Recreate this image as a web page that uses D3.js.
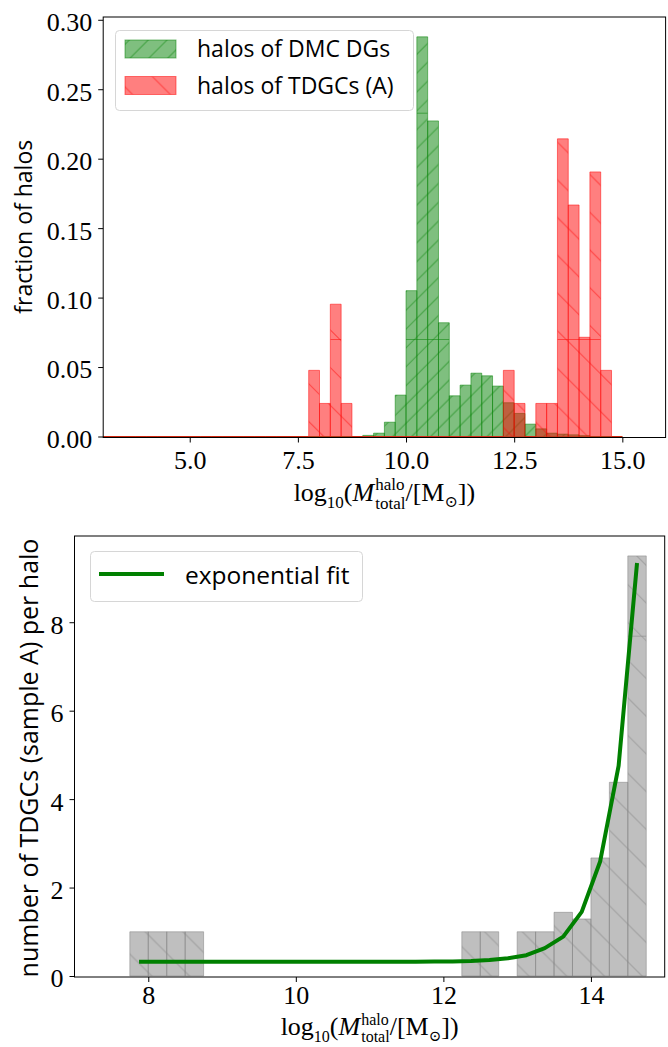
<!DOCTYPE html>
<html>
<head>
<meta charset="utf-8">
<script src="https://cdn.jsdelivr.net/npm/d3@7"></script>
<style>
  body { margin: 0; background: #fff; }
  svg { display: block; }
</style>
</head>
<body>
<svg id="fig" width="668" height="1047"></svg>
<script>
// ---------------- data ----------------
// Mass bins (log10 M_halo), 0.25 dex wide, lower edges 3.00 ... 14.75
const binWidth = 0.25;
const binStarts = d3.range(48).map(i => 3 + i * binWidth);

// Fraction of halos hosting DMC dwarf galaxies, per bin
const dmcHaloFraction = [
  0, 0, 0, 0, 0, 0, 0, 0,                 //  3.00 -  4.75
  0, 0, 0, 0, 0, 0, 0, 0,                 //  5.00 -  6.75
  0, 0, 0, 0, 0, 0, 0, 0,                 //  7.00 -  8.75
  0.0008, 0.0024, 0.0103, 0.0298, 0.105, 0.2877, 0.2272, 0.0819,   //  9.00 - 10.75
  0.0293, 0.037, 0.0456, 0.0437, 0.0363, 0.0243, 0.0166, 0.0089,   // 11.00 - 12.75
  0.0055, 0.0024, 0.0017, 0.0012, 0.0006, 0, 0, 0                  // 13.00 - 14.75
];

// Number of halos hosting TDGCs of sample A, per bin
const tdgcHaloCount = [
  0, 0, 0, 0, 0, 0, 0, 0,
  0, 0, 0, 0, 0, 0, 0, 0,
  0, 0, 0, 2, 1, 4, 1, 0,
  0, 0, 0, 0, 0, 0, 0, 0,
  0, 0, 0, 0, 0, 2, 1, 0,
  1, 1, 9, 7, 3, 8, 2, 0
];

// Mean number of TDGCs (sample A) per halo in the occupied bins
const perHaloBinStarts = [7.75, 8.0, 8.25, 8.5, 12.25, 12.5, 13.0, 13.25, 13.5, 13.75, 14.0, 14.25, 14.5];
const tdgcPerHalo      = [1, 1, 1, 1, 1, 1, 1, 1, 1.44, 1.29, 2.67, 4.38, 9.5];

// Exponential fit evaluated at bin centres
const fitMass = [7.875, 8.125, 8.375, 8.625, 8.875, 9.125, 9.375, 9.625, 9.875, 10.125,
                 10.375, 10.625, 10.875, 11.125, 11.375, 11.625, 11.875, 12.125, 12.375, 12.625,
                 12.875, 13.125, 13.375, 13.625, 13.875, 14.125, 14.375, 14.625];
const fitValue = [0.32, 0.32, 0.32, 0.32, 0.32, 0.32, 0.32, 0.32, 0.32, 0.32,
                  0.32, 0.32, 0.32, 0.32, 0.32, 0.32, 0.33, 0.33, 0.34, 0.36,
                  0.40, 0.47, 0.63, 0.89, 1.45, 2.59, 4.75, 9.34];

const topXTicks = [5.0, 7.5, 10.0, 12.5, 15.0];
const topYTicks = [0, 0.05, 0.10, 0.15, 0.20, 0.25, 0.30];
const botXTicks = [8, 10, 12, 14];
const botYTicks = [0, 2, 4, 6, 8];

// ---------------- styling ----------------
const SERIF = "'Liberation Serif', 'DejaVu Serif', serif";
const SANS = "'Open Sans', 'DejaVu Sans', sans-serif";
const TICK_FS = 26;

const svg = d3.select('#fig');
const defs = svg.append('defs');

// Hatch tile: 45-degree lines, optional seam line along the tile edge
function hatch(id, o) {
  const p = defs.append('pattern')
    .attr('id', id)
    .attr('patternUnits', 'userSpaceOnUse')
    .attr('x', o.ox).attr('y', o.oy)
    .attr('width', o.w).attr('height', o.h);
  p.append('rect').attr('width', o.w).attr('height', o.h)
    .attr('fill', o.color).attr('fill-opacity', 0.5);
  const g = p.append('g')
    .attr('stroke', o.color).attr('stroke-opacity', o.lineOpacity)
    .attr('stroke-width', 1).attr('fill', 'none');
  const n = Math.round((o.w + o.h) / o.step);
  for (let k = -1; k <= n + 1; k++) {
    if (o.dir === '/') {
      const c = k * o.step;
      g.append('line').attr('x1', c).attr('y1', 0).attr('x2', c - o.h).attr('y2', o.h);
    } else {
      const c = k * o.step - o.h;
      g.append('line').attr('x1', c).attr('y1', 0).attr('x2', c + o.h).attr('y2', o.h);
    }
  }
  if (o.seam) {
    g.append('line').attr('x1', 0).attr('x2', o.w).attr('y1', 0.5).attr('y2', 0.5);
  }
}

const TILE = 226.3;
hatch('hatch-green', { w: TILE, h: TILE, step: TILE / 12, dir: '/', color: '#008000', lineOpacity: 0.5, ox: 0, oy: 112.7, seam: true });
hatch('hatch-red',   { w: TILE, h: TILE, step: TILE / 6,  dir: '\\', color: '#ff0000', lineOpacity: 0.5, ox: 0, oy: 112.7, seam: true });
hatch('hatch-grey',  { w: TILE, h: TILE * 2, step: TILE / 6, dir: '\\', color: '#808080', lineOpacity: 0.5, ox: 0, oy: 635.7, seam: true });

function barPath(x, y, x0, x1, v) {
  const a = x(x0), b = x(x1), base = y(0), top = y(v);
  return `M${a},${base}V${top}H${b}V${base}Z`;
}

function drawAxes(g, x, y, xTicks, yTicks, xFmt, yFmt, box, xPad, xDy) {
  const xAxis = d3.axisBottom(x).tickValues(xTicks).tickFormat(xFmt).tickSize(5).tickPadding(xPad);
  const yAxis = d3.axisLeft(y).tickValues(yTicks).tickFormat(yFmt).tickSize(5).tickPadding(6);
  const gx = g.append('g').attr('transform', `translate(0,${box.bottom + 1})`).call(xAxis);
  const gy = g.append('g').attr('transform', `translate(${box.left},0)`).call(yAxis);
  [gx, gy].forEach(a => {
    a.select('.domain').remove();
    a.selectAll('.tick line').attr('stroke', '#000').attr('stroke-width', 1);
    a.selectAll('.tick text').attr('fill', '#000')
      .style('font-family', SERIF).style('font-size', TICK_FS + 'px');
  });
  gx.selectAll('.tick text').attr('dy', xDy);
  gy.selectAll('.tick text').attr('dy', '0.42em');
  // frame
  g.append('rect')
    .attr('x', box.left).attr('y', box.top)
    .attr('width', box.right - box.left).attr('height', box.bottom + 1 - box.top)
    .attr('fill', 'none').attr('stroke', '#000').attr('stroke-width', 1);
}

// x label: log10(M^halo_total / [M_sun]), laid out piece by piece
function massLabel(g, cx, base, small, up, down) {
  const pieces = [
    { t: 'log', fs: 26, dy: 0 },
    { t: '10', fs: small, dy: 7 },
    { t: '(', fs: 26, dy: 0 },
    { t: 'M', fs: 26, dy: 0, italic: true, gap: 1 },
    { t: 'halo', fs: small, dy: -up, stack: 'top' },
    { t: 'total', fs: small, dy: down, stack: 'bottom' },
    { t: '/[M', fs: 26, dy: 0 },
    { t: '\u2299', fs: small - 1, dy: 6 },
    { t: '])', fs: 26, dy: 0 }
  ];
  const grp = g.append('g');
  let x = 0, stackX = 0, stackW = 0;
  pieces.forEach(p => {
    const start = p.stack === 'bottom' ? stackX : x;
    const t = grp.append('text')
      .attr('x', start).attr('y', base + p.dy)
      .style('font-family', SERIF).style('font-size', p.fs + 'px')
      .style('font-style', p.italic ? 'italic' : 'normal')
      .attr('fill', '#000').text(p.t);
    const w = t.node().getComputedTextLength();
    if (p.stack === 'top') { stackX = x; stackW = w; }
    else if (p.stack === 'bottom') { x = stackX + Math.max(stackW, w); }
    else { x = start + w + (p.gap || 0); }
  });
  grp.attr('transform', `translate(${cx - x / 2},0)`);
}

// ---------------- top panel ----------------
const topBox = { left: 103.2, right: 665.6, top: 17, bottom: 436.5 };
const xTop = d3.scaleLinear().domain([3, 16]).range([topBox.left, topBox.right]);
const yTop = d3.scaleLinear().domain([0, 0.302]).range([topBox.bottom, topBox.top]);
const gTop = svg.append('g');

const tdgcTotal = d3.sum(tdgcHaloCount);

gTop.append('g').selectAll('path')
  .data(binStarts.map((s, i) => ({ s, v: dmcHaloFraction[i] })))
  .join('path')
  .attr('d', d => barPath(xTop, yTop, d.s, d.s + binWidth, d.v))
  .attr('fill', 'url(#hatch-green)')
  .attr('stroke', '#008000').attr('stroke-opacity', 0.5).attr('stroke-width', 1);

gTop.append('g').selectAll('path')
  .data(binStarts.map((s, i) => ({ s, v: tdgcHaloCount[i] / tdgcTotal })))
  .join('path')
  .attr('d', d => barPath(xTop, yTop, d.s, d.s + binWidth, d.v))
  .attr('fill', 'url(#hatch-red)')
  .attr('stroke', '#ff0000').attr('stroke-opacity', 0.5).attr('stroke-width', 1);

drawAxes(gTop, xTop, yTop, topXTicks, topYTicks, d3.format('.1f'), d3.format('.2f'), topBox, 6, '0.78em');
massLabel(gTop, (topBox.left + topBox.right) / 2, 501, 17, 11, 8);

gTop.append('text')
  .attr('transform', `translate(32,${(topBox.top + topBox.bottom) / 2}) rotate(-90)`)
  .attr('text-anchor', 'middle')
  .style('font-family', SANS).style('font-size', '23px').attr('fill', '#000')
  .text('fraction of halos');

// legend
const lgTop = gTop.append('g');
lgTop.append('rect')
  .attr('x', 115.5).attr('y', 30.5).attr('width', 298).attr('height', 80).attr('rx', 4)
  .attr('fill', '#fff').attr('fill-opacity', 0.8)
  .attr('stroke', '#d6d6d6').attr('stroke-width', 1);
[
  { y: 40, fill: 'url(#hatch-green)', stroke: '#008000', label: 'halos of DMC DGs' },
  { y: 76.5, fill: 'url(#hatch-red)', stroke: '#ff0000', label: 'halos of TDGCs (A)' }
].forEach(e => {
  lgTop.append('rect').attr('x', 125).attr('y', e.y).attr('width', 51).attr('height', 18)
    .attr('fill', e.fill).attr('stroke', e.stroke).attr('stroke-opacity', 0.5);
  lgTop.append('text').attr('x', 197).attr('y', e.y + 9).attr('dy', '0.36em')
    .style('font-family', SANS).style('font-size', '23px').attr('fill', '#000')
    .text(e.label);
});

// ---------------- bottom panel ----------------
const botBox = { left: 74.5, right: 664.7, top: 536, bottom: 976 };
const xBot = d3.scaleLinear().domain([7, 15]).range([botBox.left, botBox.right]);
const yBot = d3.scaleLinear().domain([0, 9.95]).range([botBox.bottom, botBox.top]);
const gBot = svg.append('g');

gBot.append('g').selectAll('path')
  .data(perHaloBinStarts.map((s, i) => ({ s, v: tdgcPerHalo[i] })))
  .join('path')
  .attr('d', d => barPath(xBot, yBot, d.s, d.s + binWidth, d.v))
  .attr('fill', 'url(#hatch-grey)')
  .attr('stroke', '#808080').attr('stroke-opacity', 0.5).attr('stroke-width', 1);

gBot.append('path')
  .datum(fitMass.map((m, i) => [m, fitValue[i]]))
  .attr('d', d3.line().x(d => xBot(d[0])).y(d => yBot(d[1])))
  .attr('fill', 'none').attr('stroke', '#008000').attr('stroke-width', 4)
  .attr('stroke-linejoin', 'round');

drawAxes(gBot, xBot, yBot, botXTicks, botYTicks, d3.format('d'), d3.format('d'), botBox, 4, '0.7em');
massLabel(gBot, (botBox.left + botBox.right) / 2, 1035, 16, 10, 7);

gBot.append('text')
  .attr('transform', `translate(38,${(botBox.top + botBox.bottom) / 2 + 2}) rotate(-90)`)
  .attr('text-anchor', 'middle')
  .style('font-family', SANS).style('font-size', '25px').attr('fill', '#000')
  .text('number of TDGCs (sample A) per halo');

const lgBot = gBot.append('g');
lgBot.append('rect')
  .attr('x', 90.5).attr('y', 551.5).attr('width', 272).attr('height', 50).attr('rx', 4)
  .attr('fill', '#fff').attr('fill-opacity', 0.8)
  .attr('stroke', '#d6d6d6').attr('stroke-width', 1);
lgBot.append('line').attr('x1', 99).attr('x2', 164).attr('y1', 574).attr('y2', 574)
  .attr('stroke', '#008000').attr('stroke-width', 4);
lgBot.append('text').attr('x', 185).attr('y', 575).attr('dy', '0.36em')
  .style('font-family', SANS).style('font-size', '24.5px').attr('fill', '#000')
  .text('exponential fit');
</script>
</body>
</html>
